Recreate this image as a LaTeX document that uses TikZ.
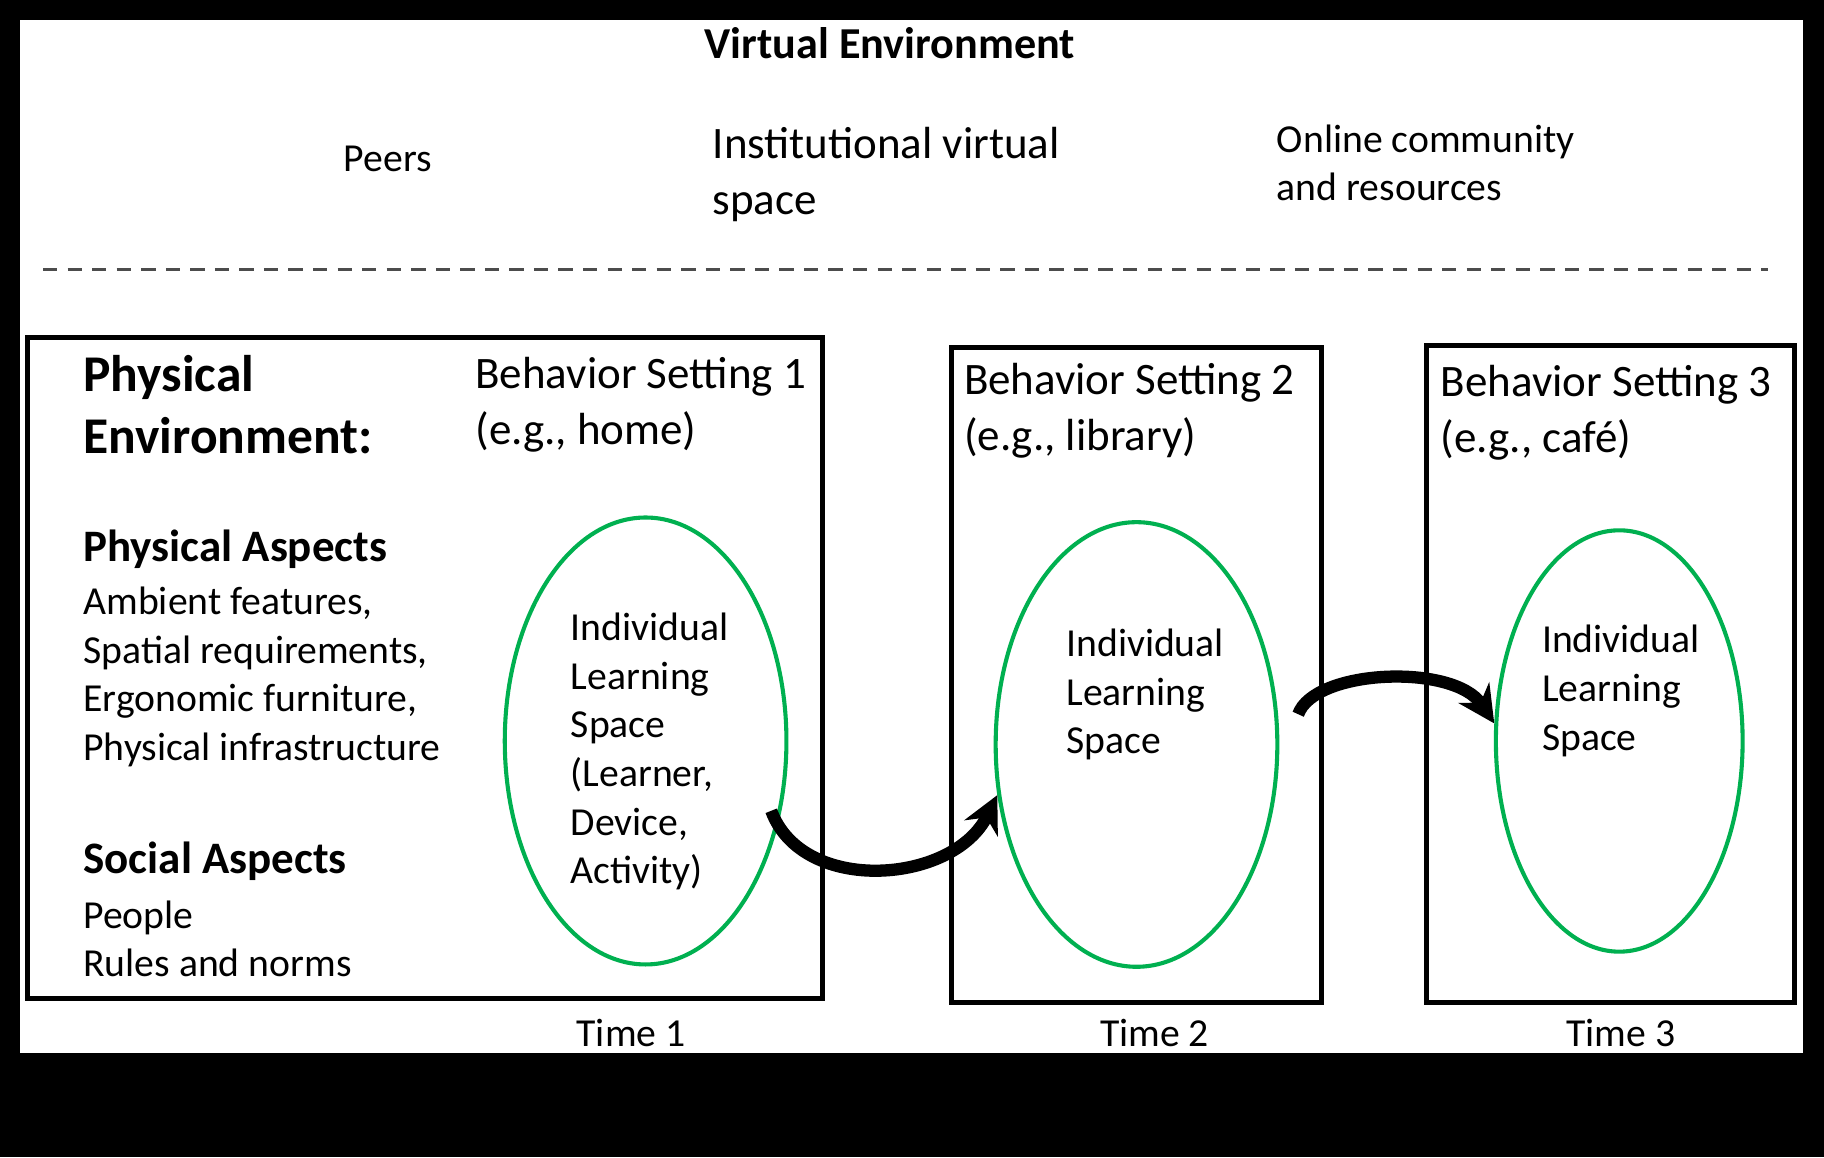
\documentclass[tikz,border=0pt]{standalone}
\usepackage{fontspec}
\setmainfont{Carlito}
\usetikzlibrary{arrows.meta,positioning,shapes.geometric}
\definecolor{spacegreen}{RGB}{0,176,80}
\begin{document}
\begin{tikzpicture}
[x=0.01cm,y=-0.01cm,
big/.style={inner sep=0pt,align=left,anchor=west,font=\fontsize{11}{13.6}\selectfont},
body/.style={inner sep=0pt,align=left,anchor=west,font=\fontsize{9.7}{11.9}\selectfont},
setting/.style={draw=black,line width=1.2pt},
space/.style={ellipse,draw=spacegreen,line width=1pt,inner sep=0pt},
move/.style={-{Stealth[length=9pt,width=9pt]},line width=3pt}]
% frame
\fill[black] (0,0) rectangle (1568,995);
\fill[white] (17,17) rectangle (1550,905);
% virtual environment
\node[font=\bfseries\fontsize{10.8}{12}\selectfont,inner sep=0pt] (virtual) at (765,37) {Virtual Environment};
\node[body] (peers) at (295,137) {Peers};
\node[big] (institutional) at (612,150) {Institutional virtual\\space};
\node[body] (online) at (1097,140) {Online community\\and resources};
\coordinate (dashL) at (37,232);
\coordinate (dashR) at (1520,232);
\draw[dash pattern=on 3.5pt off 2.5pt,line width=0.8pt,black!70] (dashL) -- (dashR);
% behavior settings
\draw[setting] (24,290) rectangle (707,858);
\draw[setting] (818,299) rectangle (1136,862);
\draw[setting] (1226,297) rectangle (1543,862);
\node[big,font=\bfseries\fontsize{12.6}{15.2}\selectfont] (physical) at (71,348) {Physical\\Environment:};
\node[big] (setting1) at (408,348) {Behavior Setting 1\\(e.g., home)};
\node[big] (setting2) at (828,353) {Behavior Setting 2\\(e.g., library)};
\node[big] (setting3) at (1238,355) {Behavior Setting 3\\(e.g., café)};
\node[body,font=\bfseries\fontsize{11}{12}\selectfont] (physaspects) at (71,472) {Physical Aspects};
\node[body] (physlist) at (71,582) {Ambient features,\\Spatial requirements,\\Ergonomic furniture,\\Physical infrastructure};
\node[body,font=\bfseries\fontsize{11}{12}\selectfont] (socaspects) at (71,740) {Social Aspects};
\node[body] (soclist) at (71,807) {People\\Rules and norms};
% learning spaces
\node[space,minimum width=2.42cm,minimum height=3.84cm] (space1) at (555,637) {};
\node[space,minimum width=2.42cm,minimum height=3.82cm] (space2) at (977,640) {};
\node[space,minimum width=2.12cm,minimum height=3.62cm] (space3) at (1392,637) {};
\node[body] (text1) at (490,646) {Individual\\Learning\\Space\\(Learner,\\Device,\\Activity)};
\node[body] (text2) at (916,597) {Individual\\Learning\\Space};
\node[body] (text3) at (1325,594) {Individual\\Learning\\Space};
% moves between settings
\coordinate (start1) at (663,697);
\coordinate (start2) at (1116,614);
\draw[move] (start1) .. controls (690,770) and (820,760) .. (space2.-160);
\draw[move] (start2) .. controls (1130,575) and (1250,570) .. (space3.172);
\node[body] (time1) at (495,888) {Time 1};
\node[body] (time2) at (945,888) {Time 2};
\node[body] (time3) at (1346,888) {Time 3};
\end{tikzpicture}
\end{document}
